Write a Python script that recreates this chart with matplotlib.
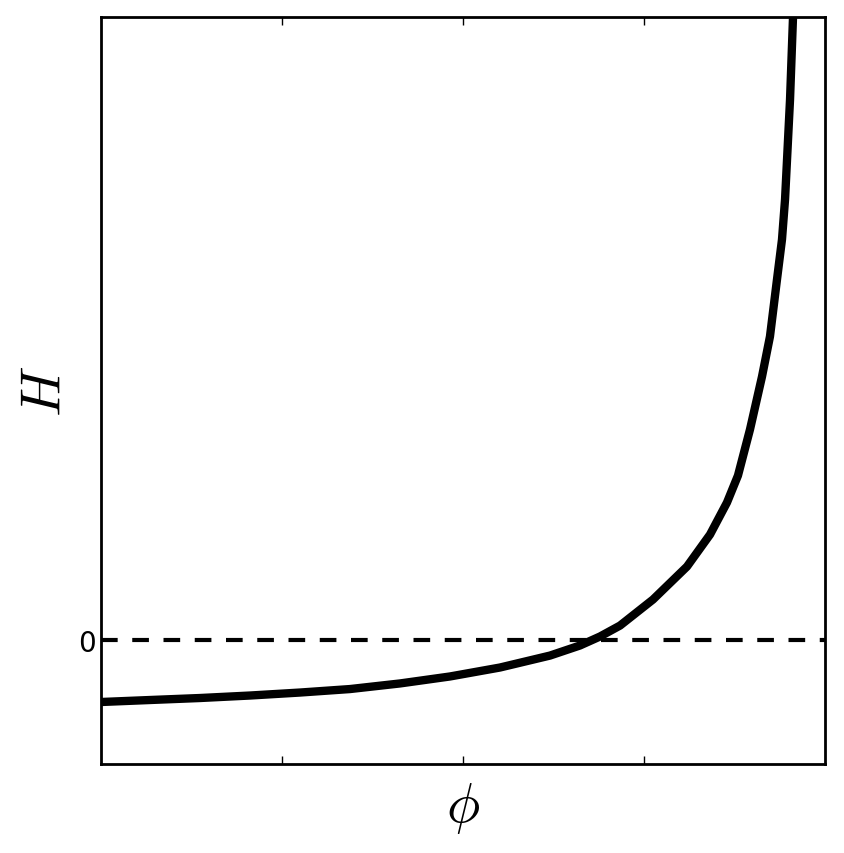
import matplotlib.pyplot as plt
import numpy as np

plt.rcParams['mathtext.fontset'] = 'cm'

# curve (phi on 0..1, H with zero at the dashed line)
phi = [0.0, 0.0677, 0.1367, 0.2058, 0.2749, 0.3439, 0.4130, 0.4820, 0.5511,
       0.6202, 0.6616, 0.6892, 0.7169, 0.7624, 0.8094, 0.8412, 0.8646, 0.8798,
       0.8964, 0.9130, 0.9240, 0.9337, 0.9406, 0.9448, 0.9517, 0.9558]
H = [-0.502, -0.486, -0.470, -0.450, -0.426, -0.398, -0.353, -0.297, -0.225,
     -0.129, -0.048, 0.024, 0.112, 0.321, 0.586, 0.843, 1.100, 1.317,
     1.687, 2.112, 2.434, 2.892, 3.213, 3.534, 4.337, 4.996]

xticks = [0.25, 0.5, 0.75]
yticks = [0]

fig = plt.figure(figsize=(8.44, 8.54), dpi=100)
ax = fig.add_axes([101 / 844, 1 - 765 / 854, 724 / 844, 747 / 854])

ax.axhline(0, color='black', linestyle=(0, (4, 3.5)), linewidth=3, zorder=1)
ax.plot(phi, H, color='black', linewidth=6, solid_capstyle='butt',
        solid_joinstyle='round', zorder=2)

ax.set_xlim(0, 1)
ax.set_ylim(-1, 5)
ax.set_xticks(xticks)
ax.set_xticklabels([])
ax.set_yticks(yticks)
ax.set_yticklabels(['0'], fontsize=20)
ax.tick_params(axis='x', direction='in', top=True, length=6, width=1)
ax.tick_params(axis='y', direction='in', length=6, width=1)

ax.set_xlabel(r'$\phi$', fontsize=40, labelpad=8)
ax.set_ylabel(r'$H$', fontsize=40, labelpad=4)

for spine in ax.spines.values():
    spine.set_linewidth(2)

plt.savefig('out.png', dpi=100)
